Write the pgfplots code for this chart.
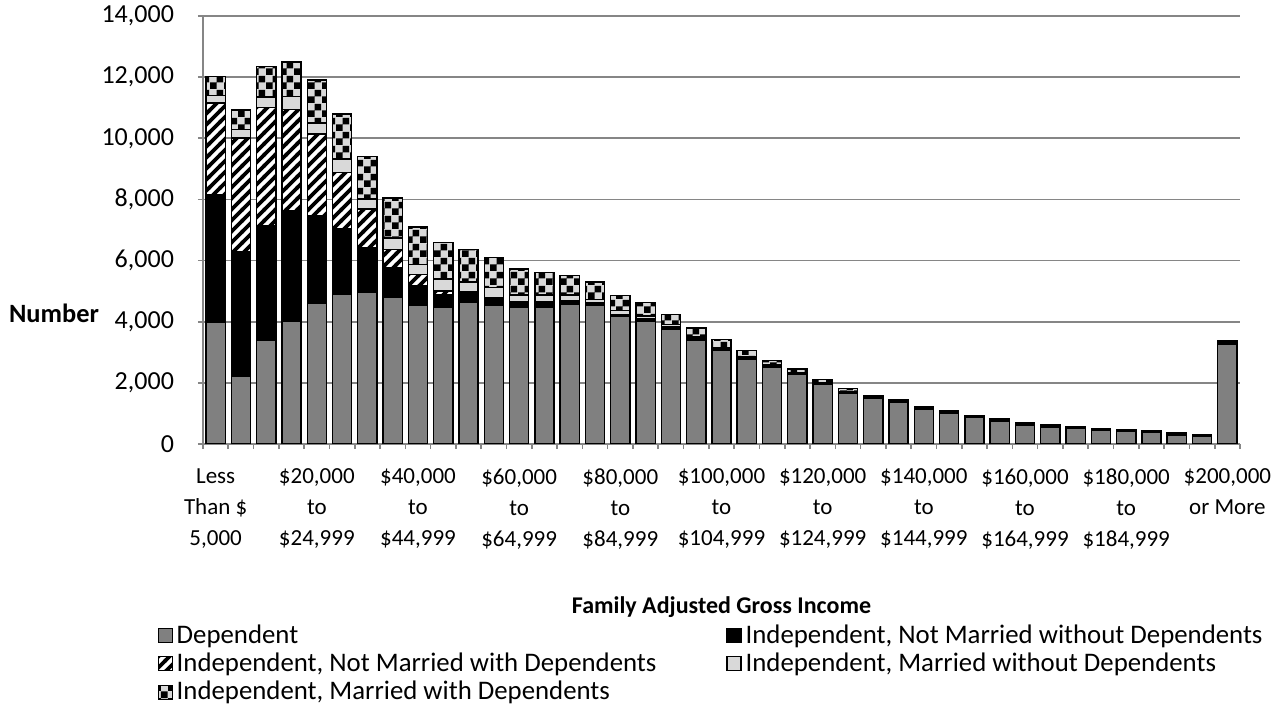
\documentclass[border=0pt]{standalone}
\usepackage{pgfplots}
\pgfplotsset{compat=1.18}
\usepackage{pgfplotstable}
\usepackage{fontspec}
\setmainfont{Carlito}
\usetikzlibrary{patterns}

\definecolor{depgray}{HTML}{808080}
\definecolor{lgray}{HTML}{D9D9D9}
\definecolor{gridgray}{HTML}{868686}

% thick "/" stripes
\pgfdeclarepatternformonly{thickstripes}{\pgfpoint{-1pt}{-1pt}}{\pgfpoint{6.5pt}{6.5pt}}{\pgfpoint{5.5pt}{5.5pt}}{%
  \pgfsetlinewidth{1.8pt}%
  \pgfpathmoveto{\pgfpoint{-0.5pt}{-0.5pt}}%
  \pgfpathlineto{\pgfpoint{6pt}{6pt}}%
  \pgfusepath{stroke}%
}
% large checkerboard
\pgfdeclarepatternformonly{bigchecker}{\pgfpointorigin}{\pgfpoint{7pt}{7pt}}{\pgfpoint{7pt}{7pt}}{%
  \pgfpathrectangle{\pgfpointorigin}{\pgfpoint{3.5pt}{3.5pt}}%
  \pgfpathrectangle{\pgfpoint{3.5pt}{3.5pt}}{\pgfpoint{3.5pt}{3.5pt}}%
  \pgfusepath{fill}%
}

% x dep = Dependent, blk = Indep. not married w/o dep, diag = Indep. not married with dep,
% lg = Indep. married w/o dep, chk = Indep. married with dep
\pgfplotstableread{
x  dep  blk  diag lg  chk
0  3980 4170 3000 250 620
1  2210 4070 3730 270 650
2  3390 3760 3860 340 1000
3  4010 3620 3320 420 1120
4  4610 2855 2675 360 1410
5  4890 2140 1860 430 1480
6  4960 1470 1255 335 1385
7  4790 965  600  380 1310
8  4540 635  360  330 1235
9  4480 400  130  385 1200
10 4630 310  40   325 1050
11 4545 195  45   335 980
12 4470 140  30   230 850
13 4480 130  30   230 740
14 4555 110  25   190 635
15 4530 60   20   110 580
16 4175 45   10   130 490
17 4010 90   10   80  440
18 3760 66   10   65  327
19 3400 60   5    55  275
20 3060 45   5    50  250
21 2780 40   5    40  195
22 2505 45   5    30  150
23 2265 45   5    20  115
24 1960 45   0    15  85
25 1670 45   0    10  95
26 1490 45   0    10  45
27 1375 40   0    10  35
28 1120 40   0    10  40
29 1015 35   0    10  30
30 860  35   0    10  30
31 750  32   0    8   27
32 620  32   0    8   27
33 556  32   0    8   25
34 500  32   0    8   26
35 435  32   0    8   25
36 412  32   0    8   25
37 370  32   0    8   25
38 295  32   0    8   25
39 240  32   0    8   24
40 3260 65   0    15  50
}\datatable

\begin{document}
\begin{tikzpicture}
\useasboundingbox (-101.5pt,-130.5pt) rectangle (540.5pt,222pt);
\begin{axis}[
  at={(0,0)}, anchor=south west,
  scale only axis,
  width=518.5pt, height=214pt,
  ybar stacked,
  bar width=0.76,
  xmin=-0.5, xmax=40.5,
  ymin=0, ymax=14000,
  ytick={0,2000,...,14000},
  xtick={0,4,...,40},
  xticklabels={{Less\\Than \$\\5,000},{\$20,000\\to\\\$24,999},{\$40,000\\to\\\$44,999},
    {\$60,000\\to\\\$64,999},{\$80,000\\to\\\$84,999},{\$100,000\\to\\\$104,999},
    {\$120,000\\to\\\$124,999},{\$140,000\\to\\\$144,999},{\$160,000\\to\\\$164,999},
    {\$180,000\\to\\\$184,999},{\$200,000\\or More}},
  minor xtick={-0.5,0.5,...,40.5},
  axis lines*=left,
  axis line style={-, gridgray, line width=0.8pt},
  ymajorgrids,
  grid style={gridgray, line width=0.8pt},
  tick align=outside,
  major tick length=2.5pt, minor tick length=2.5pt,
  major x tick style={draw=none},
  minor x tick style={gridgray, line width=0.8pt},
  major y tick style={gridgray, line width=0.8pt},
  scaled y ticks=false,
  /pgf/number format/assume math mode=true,
  /pgf/number format/1000 sep={,},
  yticklabel style={font=\fontsize{13}{15}\selectfont, xshift=-8.5pt},
  xticklabel style={font=\fontsize{11.5}{15.5}\selectfont, align=center, yshift=-6.5pt,
    execute at begin node=\strut},
  every axis y label/.style={at={(axis description cs:-0.1437,0.306)}, anchor=center,
    font=\bfseries\fontsize{13.2}{15}\selectfont},
  every axis x label/.style={at={(axis description cs:0.5,-0.382)}, anchor=center,
    font=\bfseries\fontsize{12}{14}\selectfont},
  ylabel={Number},
  xlabel={Family Adjusted Gross Income},
  legend columns=2,
  legend cell align=left,
  legend style={draw=none, fill=none, at={(-0.05,-0.403)}, anchor=north west,
    font=\fontsize{13.4}{15}\selectfont, row sep=-0.7pt,
    /tikz/every even column/.append style={column sep=33pt}},
  legend image code/.code={\draw[#1, line width=0.6pt] (0pt,-3.5pt) rectangle (7pt,3.5pt);},
  every axis plot/.append style={draw=black, line width=0.7pt},
]
\addplot[fill=depgray] table[x=x, y=dep] {\datatable};
\addlegendentry{Dependent}
\addplot[fill=black] table[x=x, y=blk] {\datatable};
\addlegendentry{Independent, Not Married without Dependents}
\addplot[fill=white, postaction={pattern=thickstripes}] table[x=x, y=diag] {\datatable};
\addlegendentry{Independent, Not Married with Dependents}
\addplot[fill=lgray] table[x=x, y=lg] {\datatable};
\addlegendentry{Independent, Married without Dependents}
\addplot[fill=lgray, postaction={pattern=bigchecker}] table[x=x, y=chk] {\datatable};
\addlegendentry{Independent, Married with Dependents}
\end{axis}
\end{tikzpicture}
\end{document}
